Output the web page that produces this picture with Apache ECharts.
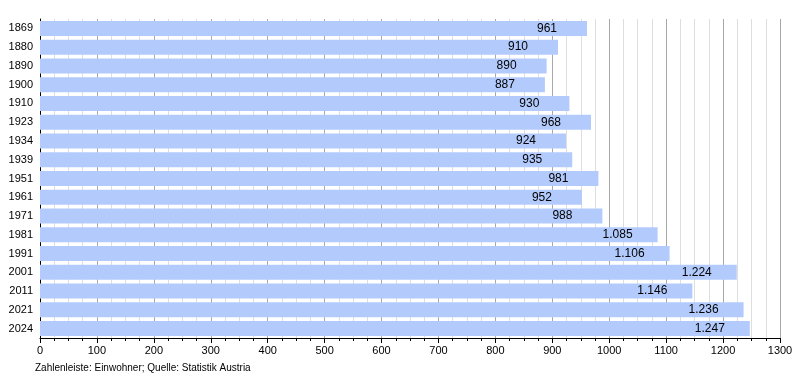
<!DOCTYPE html>
<html><head><meta charset="utf-8">
<script src="https://cdn.jsdelivr.net/npm/echarts@6/dist/echarts.min.js"></script>
<style>html,body{margin:0;padding:0;background:#fff}#c{width:800px;height:380px}</style>
</head><body><div id="c"></div>
<script>
const years = ['1869','1880','1890','1900','1910','1923','1934','1939','1951','1961','1971','1981','1991','2001','2011','2021','2024'];
const population = [961,910,890,887,930,968,924,935,981,952,988,1085,1106,1224,1146,1236,1247];
const xTicks = [0,100,200,300,400,500,600,700,800,900,1000,1100,1200,1300];

function fmt(v){ return String(v).replace(/\B(?=(\d{3})+(?!\d))/g,'.'); }
const font = 'Liberation Sans, Arial, sans-serif';
const chart = echarts.init(document.getElementById('c'));
chart.setOption({
  animation:false,
  grid:{left:40,right:20,top:19,bottom:42},
  xAxis:{type:'value',min:xTicks[0],max:xTicks[xTicks.length-1],interval:100,
    axisLine:{show:true,lineStyle:{color:'#000',width:1}},
    axisTick:{show:true,length:5,lineStyle:{color:'#000'}},
    minorTick:{show:true,splitNumber:4,length:3,lineStyle:{color:'#000'}},
    splitLine:{show:true,lineStyle:{color:'#a8a8a8',width:1}},
    minorSplitLine:{show:true,lineStyle:{color:'#dedede',width:1}},
    axisLabel:{color:'#000',fontFamily:font,fontSize:11,margin:7,formatter:v=>String(v)}},
  yAxis:{type:'category',data:years,inverse:true,
    axisLine:{show:true,lineStyle:{color:'#000'}},
    axisTick:{show:false},
    axisLabel:{color:'#000',fontFamily:font,fontSize:11,margin:7}},
  series:[{type:'bar',data:population,barCategoryGap:'20%',
    itemStyle:{color:'#b3cbfc'},
    label:{show:true,position:'insideRight',distance:40,align:'center',
      color:'#000',fontFamily:font,fontSize:12,formatter:p=>fmt(p.value)}}],
  graphic:[{type:'text',left:35,top:363,style:{text:'Zahlenleiste: Einwohner; Quelle: Statistik Austria',fill:'#000',font:'10px '+font}}]
});
</script></body></html>
